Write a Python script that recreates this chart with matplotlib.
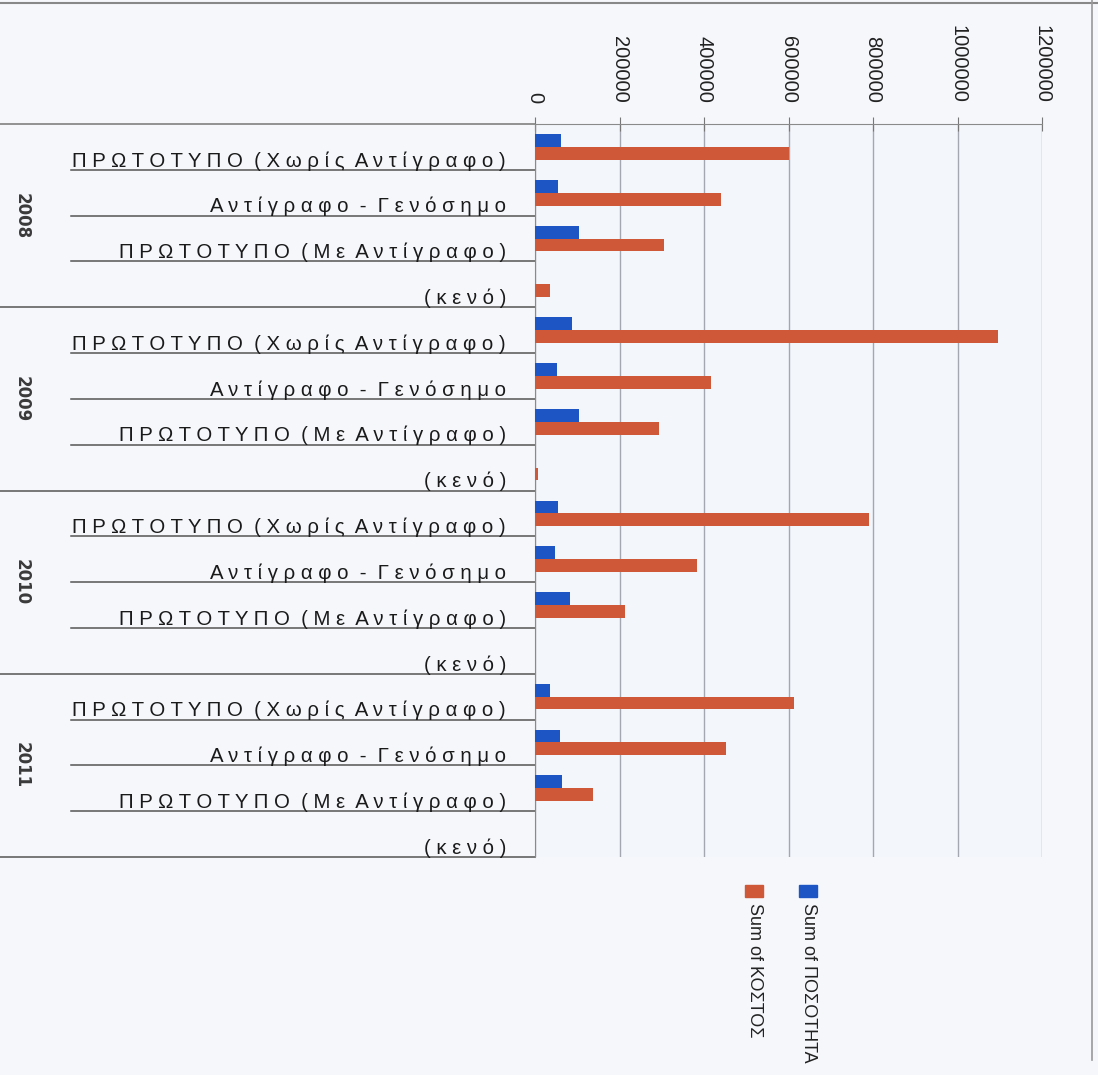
import matplotlib
matplotlib.use('Agg')
import matplotlib.pyplot as plt
import matplotlib.transforms as mtransforms
from matplotlib.lines import Line2D
from matplotlib.patches import Rectangle
import numpy as np

plt.rcParams['font.family'] = ['Liberation Sans Narrow', 'Liberation Sans', 'DejaVu Sans']

# δεδομένα
years = ['2008', '2009', '2010', '2011']
types = ['ΠΡΩΤΟΤΥΠΟ (Χωρίς Αντίγραφο)', 'Αντίγραφο - Γενόσημο',
         'ΠΡΩΤΟΤΥΠΟ (Με Αντίγραφο)', '(κενό)']
posotita = [61000, 55000, 103000, 0,
            87500, 51000, 104000, 0,
            54600, 48000, 84000, 0,
            35000, 59500, 65000, 0]
kostos = [601000, 440000, 305000, 35000,
          1096000, 416000, 293500, 7000,
          790000, 384000, 213000, 0,
          613000, 452000, 138000, 0]
xticks = [0, 200000, 400000, 600000, 800000, 1000000, 1200000]
series_names = ['Sum of ΠΟΣΟΤΗΤΑ', 'Sum of ΚΟΣΤΟΣ']
blue = '#1d55c4'
red = '#cf5838'


def spaced(s):
    # αραιά γράμματα όπως στο αρχικό
    return '  '.join(' '.join(w) for w in s.split(' '))


fig = plt.figure(figsize=(10.98, 10.75), dpi=100, facecolor='#f5f7fb')
ax = fig.add_axes([535 / 1098, 1 - 857 / 1075, 507 / 1098, 733 / 1075])
ax.set_facecolor('#f3f6fb')

n = len(posotita)
y = np.arange(n)
h = 0.28
ax.barh(y - h / 2, posotita, height=h, color=blue, zorder=3)
ax.barh(y + h / 2, kostos, height=h, color=red, zorder=3)

ax.set_ylim(n - 0.5, -0.5)
ax.set_xlim(0, 1200000)
ax.set_xticks(xticks)
ax.set_xticklabels([str(v) for v in xticks], rotation=-90, fontsize=14.5,
                   family=['Liberation Sans', 'DejaVu Sans'], color='#222222')
ax.xaxis.tick_top()
ax.tick_params(axis='x', direction='inout', length=10, color='#777777', pad=10)
ax.set_yticks([])
ax.grid(axis='x', color='#a4a6b0', linewidth=1, zorder=0)

for s in ['right', 'bottom']:
    ax.spines[s].set_visible(False)
ax.spines['top'].set_color('#8a8a8a')
ax.spines['left'].set_color('#8a8a8a')

# ετικέτες κατηγοριών με υπογράμμιση
tr = mtransforms.blended_transform_factory(ax.transAxes, ax.transData)
for i in range(n):
    label = types[i % len(types)]
    ax.text(-0.057, i + 0.43, spaced(label), transform=tr, ha='right', va='baseline',
            fontsize=14.7, color='#1a1a1a', clip_on=False)
    if (i + 1) % len(types) == 0:
        x0 = -1.06
    else:
        x0 = -0.915
    ax.plot([x0, 0], [i + 0.5, i + 0.5], transform=tr, color='#555555',
            linewidth=1.1, clip_on=False)
ax.plot([-1.06, 0], [-0.5, -0.5], transform=tr, color='#777777', linewidth=1.1, clip_on=False)

# έτη
for k, yr in enumerate(years):
    yc = k * len(types) + (len(types) - 1) / 2
    ax.text(-1.012, yc, yr, transform=tr, rotation=-90, ha='center', va='center',
            fontsize=12, color='#3a3a3a', fontweight='bold',
            family=['Liberation Sans Narrow', 'DejaVu Sans'])

# υπόμνημα
W, H = 1098, 1075
for name, color, xc in [(series_names[0], blue, 808), (series_names[1], red, 754)]:
    fig.add_artist(Rectangle(((xc - 9) / W, 1 - 897 / H), 18 / W, 12 / H,
                             color=color, transform=fig.transFigure))
    fig.text(xc / W, 1 - 903 / H, name, rotation=-90, ha='center', va='top',
             fontsize=13, color='#222222')

# περίγραμμα
fig.add_artist(Line2D([0, 1], [1 - 3 / H, 1 - 3 / H], color='#888888', linewidth=1.5))
fig.add_artist(Line2D([1092 / W, 1092 / W], [1 - 1060 / H, 1], color='#999999', linewidth=1.2))

fig.savefig('out.png', dpi=100, facecolor=fig.get_facecolor())
